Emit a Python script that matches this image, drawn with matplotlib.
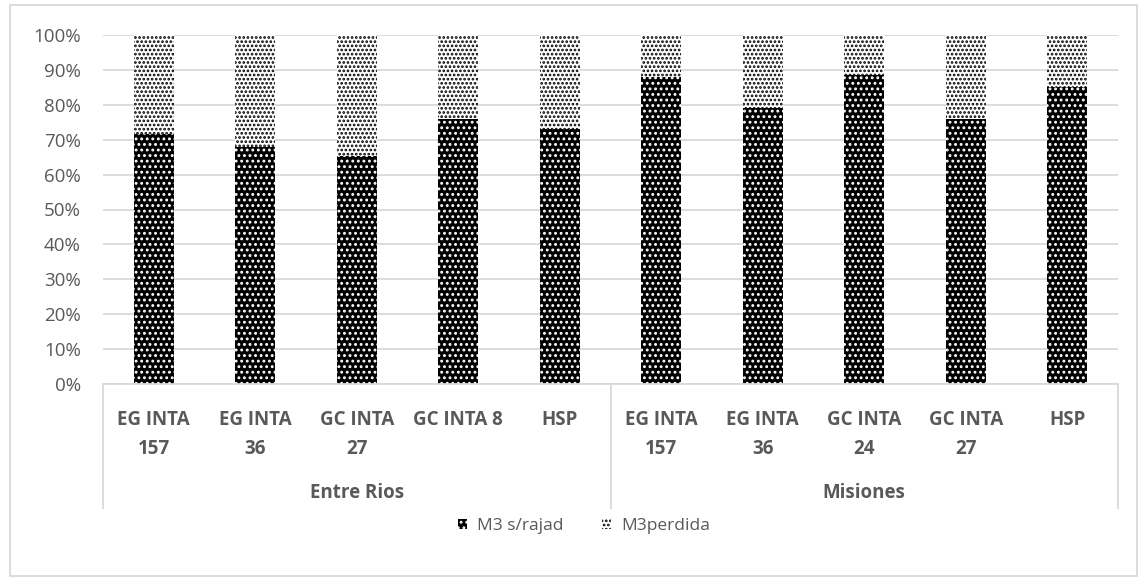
import matplotlib.pyplot as plt
import matplotlib.transforms as mtrans
from matplotlib.patches import Rectangle
import numpy as np

plt.rcParams['font.family'] = ['Open Sans', 'DejaVu Sans']
plt.rcParams['hatch.linewidth'] = 1.3

# data
groups = ['Entre Rios', 'Misiones']
labels = ['EG INTA\n157', 'EG INTA\n36', 'GC INTA\n27', 'GC INTA 8', 'HSP',
          'EG INTA\n157', 'EG INTA\n36', 'GC INTA\n24', 'GC INTA\n27', 'HSP']
group_size = [5, 5]
sin_rajad = [71.6, 67.8, 65.2, 76.0, 73.0, 88.0, 79.0, 88.5, 76.0, 85.0]
perdida = [100 - v for v in sin_rajad]

grey = '#595959'
grid_grey = '#d9d9d9'

fig = plt.figure(figsize=(11.44, 5.77), dpi=100)
ax = fig.add_axes([103/1144, 1-384/577, (1118-103)/1144, (384-35)/577])

x = np.arange(len(labels))
b1 = ax.bar(x, sin_rajad, width=0.39, color='black', edgecolor='white',
            hatch='...', linewidth=0, label='M3 s/rajad', zorder=2)
b2 = ax.bar(x, perdida, width=0.39, bottom=sin_rajad, color='white', edgecolor='black',
            hatch='....', linewidth=0, label='M3perdida', zorder=2)

ax.set_xlim(-0.5, len(labels) - 0.5)
ax.set_ylim(0, 100)
ax.set_yticks(np.arange(0, 101, 10))
ax.set_yticklabels(['{}%'.format(v) for v in range(0, 101, 10)], color=grey, fontsize=13.5)
ax.yaxis.grid(True, color=grid_grey, linewidth=1.3, zorder=0)
ax.tick_params(axis='y', length=0, pad=16)
ax.tick_params(axis='x', length=0, pad=19)
for s in ['top', 'right', 'left']:
    ax.spines[s].set_visible(False)
ax.spines['bottom'].set_color(grid_grey)
ax.spines['bottom'].set_linewidth(1.3)

ax.set_xticks(x)
ax.set_xticklabels(labels, color=grey, fontsize=13.5, fontweight='bold', linespacing=1.6,
                   va='top')

# group axis: separators and group names
trans = mtrans.blended_transform_factory(ax.transData, ax.transAxes)
depth = -(508 - 384) / (384 - 35)
edges = [-0.5]
for n in group_size:
    edges.append(edges[-1] + n)
for e in edges:
    ax.plot([e, e], [0, depth], transform=trans, color=grid_grey, lw=1.3, clip_on=False)
for i, g in enumerate(groups):
    mid = (edges[i] + edges[i + 1]) / 2
    ax.text(mid, -(493 - 384) / (384 - 35), g, transform=trans, ha='center', va='center',
            color=grey, fontsize=13.5, fontweight='bold')

fig.legend(handles=[b1, b2], loc='center', bbox_to_anchor=(584/1144, 1-526/577), ncol=2,
           frameon=False, fontsize=12.5, labelcolor=grey, handlelength=0.5, handleheight=0.5,
           columnspacing=2.2, handletextpad=0.6)

fig.patches.append(Rectangle((10/1144, 0.002), 1127/1144, 1-5/577-0.002, transform=fig.transFigure,
                             fill=False, edgecolor=grid_grey, linewidth=1.3))

fig.savefig('out.png', dpi=100)
